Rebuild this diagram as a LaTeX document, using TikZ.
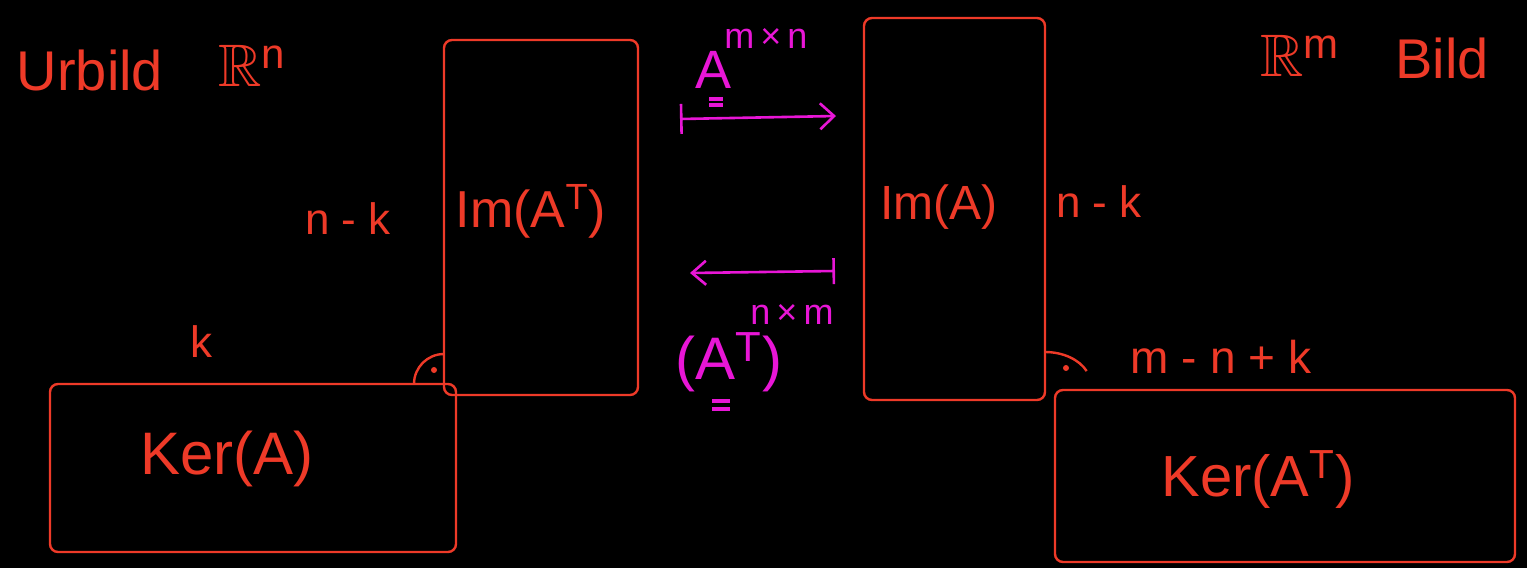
\documentclass[tikz,border=0pt]{standalone}
\usepackage{amssymb}
\usepackage{fontspec}
\setmainfont{Liberation Sans}
\usetikzlibrary{fit,arrows.meta}
\definecolor{pen}{RGB}{238,58,40}
\definecolor{mag}{RGB}{232,22,214}
\begin{document}
\begin{tikzpicture}[x=0.5pt,y=-0.5pt,
  box/.style={draw=pen, line width=1.2pt, inner sep=0pt, rounded corners=4pt},
  lbl/.style={text=pen, inner sep=0pt, font=\fontsize{26}{28}\selectfont},
  mlbl/.style={text=mag, inner sep=0pt, font=\fontsize{27}{29}\selectfont},
  msup/.style={text=mag, inner sep=0pt, font=\fontsize{18}{20}\selectfont},
  marrow/.style={draw=mag, line width=1.3pt},
  ulin/.style={draw=mag, line width=1.6pt},
  ramark/.style={draw=pen, line width=1.2pt}]
\fill[black] (0,0) rectangle (1527,568);
\useasboundingbox (0,0) rectangle (1527,568);

% boxes
\node[box, fit={(444,40) (638,395)}] (imATbox) {};
\node[box, fit={(50,384) (456,552)}] (kerAbox) {};
\node[box, fit={(864,18) (1045,400)}] (imAbox) {};
\node[box, fit={(1055,390) (1515,562)}] (kerATbox) {};

% labels
\node[lbl, font=\fontsize{28}{30}\selectfont] (urbild) at (90,70) {Urbild};
\node[lbl, font=\fontsize{30}{32}\selectfont] (rn) at (252,66) {$\mathbb{R}$\textsuperscript{n}};
\node[lbl, font=\fontsize{30}{32}\selectfont] (rm) at (1300,56) {$\mathbb{R}$\textsuperscript{m}};
\node[lbl, font=\fontsize{28}{30}\selectfont] (bild) at (1442,58) {Bild};
\node[lbl] (imAT) at (531,211) {Im(A\textsuperscript{T})};
\node[lbl, font=\fontsize{24}{26}\selectfont] (imA) at (939,207) {Im(A)};
\node[lbl, font=\fontsize{22}{24}\selectfont] (nkL) at (348,219) {n - k};
\node[lbl, font=\fontsize{22}{24}\selectfont] (nkR) at (1099,202) {n - k};
\node[lbl, font=\fontsize{22}{24}\selectfont] (k) at (201,342) {k};
\node[lbl, font=\fontsize{30}{32}\selectfont] (kerA) at (227,459) {Ker(A)};
\node[lbl, font=\fontsize{29}{31}\selectfont] (kerAT) at (1258,480) {Ker(A\textsuperscript{T})};
\node[lbl, font=\fontsize{23}{25}\selectfont] (mnk) at (1221,357) {m - n + k};

% matrix labels
\node[mlbl] (A) at (714,70) {A};
\node[msup] (Asup) at (766,38) {m\,×\,n};
\draw[ulin] (709,99) -- (723,99);
\draw[ulin] (709,105) -- (723,105);
\node[mlbl, font=\fontsize{30}{32}\selectfont] (AT) at (729,362) {(A\textsuperscript{T})};
\node[msup] (ATsup) at (792,314) {n\,×\,m};
\draw[ulin] (712,401) -- (730,401);
\draw[ulin] (712,409) -- (730,409);

% arrows
\coordinate (t1) at (680,119);
\coordinate (t2) at (836,116);
\draw[marrow, {Bar[width=15pt]}-{Straight Barb[length=7pt,width=13pt]}] (t1) -- (t2);
\coordinate (b1) at (835,271);
\coordinate (b2) at (690,273);
\draw[marrow, {Bar[width=13pt]}-{Straight Barb[length=7pt,width=12pt]}] (b1) -- (b2);

% right-angle marks
\draw[ramark] (414,384) arc[start angle=180, end angle=270, radius=30];
\fill[pen] (434,370) circle[radius=3];
\draw[ramark] (1045,352) arc[start angle=270, end angle=335, x radius=46, y radius=33];
\fill[pen] (1066,368) circle[radius=3];
\end{tikzpicture}
\end{document}
